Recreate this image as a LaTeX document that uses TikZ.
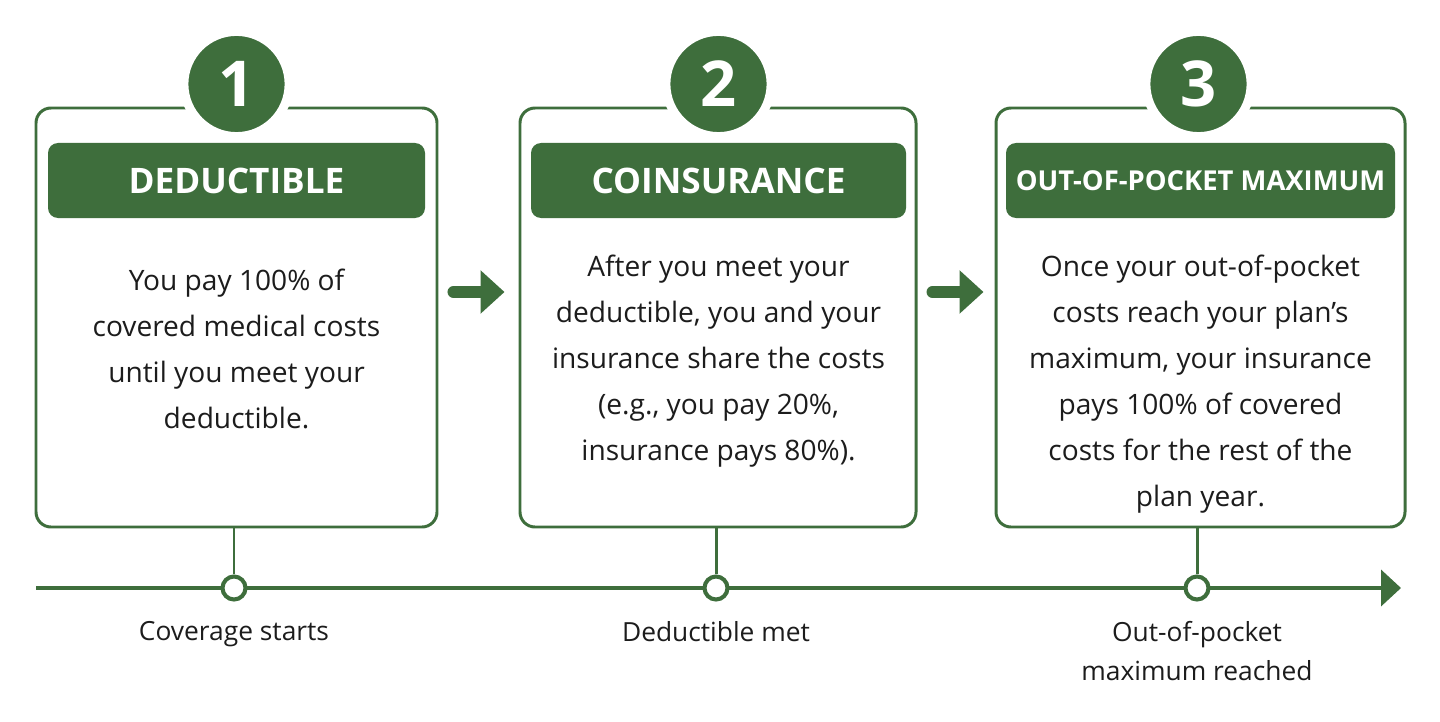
\documentclass[tikz,border=0pt]{standalone}
\usepackage{fontspec}
\setmainfont{Open Sans}
\usetikzlibrary{arrows.meta, positioning}
\definecolor{leaf}{HTML}{3E6E3C}
\definecolor{ink}{HTML}{1C1C1C}

\begin{document}
\begin{tikzpicture}[
    card/.style={draw=leaf, line width=1.7pt, rounded corners=0.3cm, fill=white, minimum height=8.38cm, minimum width=#1},
    bar/.style={fill=leaf, rounded corners=0.2cm, minimum height=1.5cm, minimum width=#1, text=white, font=\bfseries\fontsize{20}{24}\selectfont},
    badge/.style={circle, fill=leaf, draw=white, line width=5pt, minimum size=2.1cm, inner sep=0pt, text=white, font=\bfseries\fontsize{36}{40}\selectfont},
    body/.style={align=center, text=ink, font=\fontsize{16}{26.2}\selectfont},
    milestone/.style={circle, draw=leaf, fill=white, line width=2.3pt, minimum size=0.46cm, inner sep=0pt},
    stamp/.style={align=center, text=ink, font=\fontsize{15}{22}\selectfont},
    hop/.style={leaf, line width=0.24cm, line cap=round, -{Triangle[length=0.48cm, width=0.84cm]}},
]
    \useasboundingbox (0,0) rectangle (28.8,14.42);

    % Deductible
    \node[card=8.02cm] (ded) at (4.73, 8.07) {};
    \node[bar=7.54cm] (dedbar) at (4.73, 10.81) {DEDUCTIBLE};
    \node[badge] (dednum) at (4.73, 12.74) {1};
    \node[body] (dedtext) at (4.73, 7.44) {You pay 100\% of\\covered medical costs\\until you meet your\\deductible.};

    % Coinsurance
    \node[card=7.92cm] (coi) at (14.36, 8.07) {};
    \node[bar=7.5cm] (coibar) at (14.37, 10.81) {COINSURANCE};
    \node[badge] (coinum) at (14.37, 12.74) {2};
    \node[body] (coitext) at (14.37, 7.2) {After you meet your\\deductible, you and your\\insurance share the costs\\(e.g., you pay 20\%,\\insurance pays 80\%).};

    % Out-of-pocket maximum
    \node[card=8.18cm] (oop) at (24.01, 8.07) {};
    \node[bar=7.78cm, font=\bfseries\fontsize{15.6}{18}\selectfont] (oopbar) at (24.01, 10.81) {OUT-OF-POCKET MAXIMUM};
    \node[badge] (oopnum) at (23.97, 12.74) {3};
    \node[body] (ooptext) at (24.01, 6.74) {Once your out-of-pocket\\costs reach your plan’s\\maximum, your insurance\\pays 100\% of covered\\costs for the rest of the\\plan year.};

    % Step arrows
    \draw[hop, shorten <=0.3cm, shorten >=0.28cm] ([yshift=0.51cm]ded.east) -- ([yshift=0.51cm]coi.west);
    \draw[hop, shorten <=0.3cm, shorten >=0.22cm] ([yshift=0.51cm]coi.east) -- ([yshift=0.51cm]oop.west);

    % Timeline
    \coordinate (tstart) at (0.72, 2.66);
    \coordinate (tend) at (28.02, 2.66);
    \draw[leaf, line width=2.3pt, -{Triangle[length=0.4cm, width=0.72cm]}] (tstart) -- (tend);

    \node[milestone] (m1) at (4.68, 2.66) {};
    \node[milestone] (m2) at (14.32, 2.66) {};
    \node[milestone] (m3) at (23.94, 2.66) {};

    \draw[leaf, line width=1.7pt] (ded.south -| m1) -- (m1.north);
    \draw[leaf, line width=1.7pt] (coi.south -| m2) -- (m2.north);
    \draw[leaf, line width=1.7pt] (oop.south -| m3) -- (m3.north);

    \node[stamp, below=0.28cm of m1] (lab1) {Coverage starts};
    \node[stamp, below=0.28cm of m2] (lab2) {Deductible met};
    \node[stamp, below=0.28cm of m3] (lab3) {Out-of-pocket\\maximum reached};
\end{tikzpicture}
\end{document}
